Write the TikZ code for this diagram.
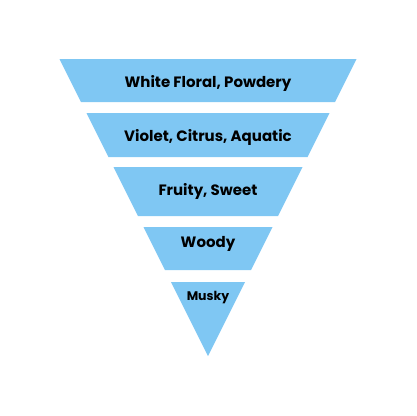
\documentclass[tikz,border=0pt]{standalone}
\usepackage{fontspec}
\setmainfont{Poppins}
\definecolor{noteblue}{RGB}{127,199,243}
\tikzset{
  layer/.style={fill=noteblue, draw=none},
  note/.style={font=\bfseries\fontsize{15}{17}\selectfont, text=black}
}
\begin{document}
\begin{tikzpicture}[x=1pt, y=-1pt]
\useasboundingbox (0,0) rectangle (416,416);

  % layers
\fill[layer] (59.5,59) -- (356.5,59) -- (335,102) -- (81,102) -- cycle;
\fill[layer] (86.5,113) -- (329.5,113) -- (307.5,157) -- (108.5,157) -- cycle;
\fill[layer] (113.5,167) -- (302.5,167) -- (278,216) -- (138,216) -- cycle;
\fill[layer] (143.5,227) -- (272.5,227) -- (251,270) -- (165,270) -- cycle;
\fill[layer] (171,282) -- (245,282) -- (208,356) -- cycle;

  % labels
\node[note] (floral) at (208,83) {White Floral, Powdery};
\node[note] (violet) at (208,137) {Violet, Citrus, Aquatic};
\node[note] (fruity) at (208,191) {Fruity, Sweet};
\node[note] (woody) at (208,244) {Woody};
\node[note, font=\bfseries\fontsize{12.5}{14}\selectfont] (musky) at (208,298) {Musky};
\end{tikzpicture}
\end{document}
